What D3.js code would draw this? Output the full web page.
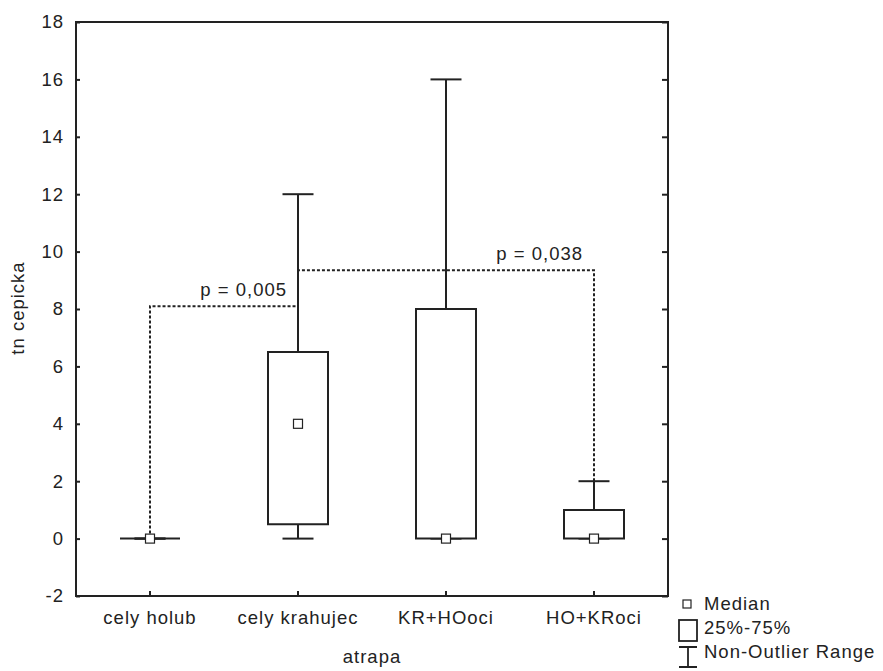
<!DOCTYPE html>
<html>
<head>
<meta charset="utf-8">
<script src="https://cdn.jsdelivr.net/npm/d3@7"></script>
<style>
  body { margin: 0; background: #fff; }
  text { font-family: "Liberation Sans", Arial, sans-serif; fill: #222; letter-spacing: 1px; }
</style>
</head>
<body>
<svg width="883" height="671"></svg>
<script>
// categories and box statistics
var categories = ["cely holub", "cely krahujec", "KR+HOoci", "HO+KRoci"];
var medians = [0, 4, 0, 0];
var q1 = [0, 0.5, 0, 0];
var q3 = [0, 6.5, 8, 1];
var mins = [0, 0, 0, 0];
var maxs = [0, 12, 16, 2];
var yTicks = [-2, 0, 2, 4, 6, 8, 10, 12, 14, 16, 18];

// significance brackets: from category, to category, height, label
var brackets = [
  { from: 0, to: 1, level: 8.1, fromY: 0, toY: 12, label: "p = 0,005" },
  { from: 1, to: 3, level: 9.35, fromY: 12, toY: 2, label: "p = 0,038" }
];

var legendItems = ["Median", "25%-75%", "Non-Outlier Range"];

var svg = d3.select("svg");
var ink = "#222";
var fs = 18.5;
var plotL = 76, plotR = 668, plotT = 22, plotB = 596;

var x = d3.scaleBand().domain(categories).range([plotL, plotR]).padding(0);
var y = d3.scaleLinear().domain([-2, 18]).range([plotB, plotT]);
var cx = function(i) { return x(categories[i]) + x.bandwidth() / 2; };
var boxW = 60, capW = 31;

// frame
svg.append("rect")
  .attr("x", plotL).attr("y", plotT)
  .attr("width", plotR - plotL).attr("height", plotB - plotT)
  .attr("fill", "none").attr("stroke", ink).attr("stroke-width", 2);

// left axis (ticks inside)
var yAxis = svg.append("g")
  .attr("transform", "translate(" + plotL + ",0)")
  .call(d3.axisLeft(y).tickValues(yTicks).tickSize(-4).tickPadding(12)
    .tickFormat(function(d) { return String(d); }));
yAxis.select(".domain").remove();
yAxis.selectAll("line").attr("stroke", ink).attr("stroke-width", 2);
yAxis.selectAll("text").attr("font-size", fs).attr("fill", ink)
  .style("font-family", "'Liberation Sans', Arial, sans-serif");

// right axis ticks
var yAxisR = svg.append("g")
  .attr("transform", "translate(" + plotR + ",0)")
  .call(d3.axisRight(y).tickValues(yTicks).tickSize(-6).tickFormat(""));
yAxisR.select(".domain").remove();
yAxisR.selectAll("line").attr("stroke", ink).attr("stroke-width", 2);

// bottom axis
var xAxis = svg.append("g")
  .attr("transform", "translate(0," + plotB + ")")
  .call(d3.axisBottom(x).tickSize(-5).tickPadding(15));
xAxis.select(".domain").remove();
xAxis.selectAll("line").attr("stroke", ink).attr("stroke-width", 2);
xAxis.selectAll("text").attr("font-size", fs).attr("fill", ink)
  .style("font-family", "'Liberation Sans', Arial, sans-serif");

// axis titles
svg.append("text")
  .attr("transform", "translate(24," + 308 + ") rotate(-90)")
  .attr("text-anchor", "middle")
  .attr("font-size", fs)
  .text("tn cepicka");

svg.append("text")
  .attr("x", (plotL + plotR) / 2).attr("y", 663)
  .attr("text-anchor", "middle")
  .attr("font-size", fs)
  .text("atrapa");

// significance brackets (dotted)
var bg = svg.append("g");
brackets.forEach(function(b) {
  var pts = [[cx(b.from), y(b.fromY)], [cx(b.from), y(b.level)],
             [cx(b.to), y(b.level)], [cx(b.to), y(b.toY)]];
  bg.append("path")
    .attr("d", d3.line()(pts))
    .attr("fill", "none").attr("stroke", ink)
    .attr("stroke-width", 2).attr("stroke-dasharray", "3,2");
  bg.append("text")
    .attr("x", cx(b.to) - 11).attr("y", y(b.level) - 10)
    .attr("text-anchor", "end")
    .attr("font-size", fs)
    .text(b.label);
});

// boxes
var boxes = svg.append("g");
categories.forEach(function(c, i) {
  var g = boxes.append("g");
  var xc = cx(i);
  // whiskers
  g.append("line").attr("x1", xc).attr("x2", xc)
    .attr("y1", y(q3[i])).attr("y2", y(maxs[i]))
    .attr("stroke", ink).attr("stroke-width", 2);
  g.append("line").attr("x1", xc).attr("x2", xc)
    .attr("y1", y(q1[i])).attr("y2", y(mins[i]))
    .attr("stroke", ink).attr("stroke-width", 2);
  g.append("line").attr("x1", xc - capW / 2).attr("x2", xc + capW / 2)
    .attr("y1", y(maxs[i])).attr("y2", y(maxs[i]))
    .attr("stroke", ink).attr("stroke-width", 2);
  g.append("line").attr("x1", xc - capW / 2).attr("x2", xc + capW / 2)
    .attr("y1", y(mins[i])).attr("y2", y(mins[i]))
    .attr("stroke", ink).attr("stroke-width", 2);
  // box (path so a zero-height box still shows as a line)
  var x0 = xc - boxW / 2, x1 = xc + boxW / 2, yTop = y(q3[i]), yBot = y(q1[i]);
  g.append("path")
    .attr("d", "M" + x0 + "," + yTop + "H" + x1 + "V" + yBot + "H" + x0 + "Z")
    .attr("fill", "#fff").attr("stroke", ink).attr("stroke-width", 2);
  // median marker
  g.append("rect")
    .attr("x", xc - 4.5).attr("y", y(medians[i]) - 4.5)
    .attr("width", 9).attr("height", 9)
    .attr("fill", "#fff").attr("stroke", ink).attr("stroke-width", 1.2);
});

// legend
var lg = svg.append("g");
lg.append("rect").attr("x", 683).attr("y", 600).attr("width", 8).attr("height", 8)
  .attr("fill", "#fff").attr("stroke", ink).attr("stroke-width", 1.2);
lg.append("rect").attr("x", 679).attr("y", 620).attr("width", 18).attr("height", 21)
  .attr("fill", "#fff").attr("stroke", ink).attr("stroke-width", 1.8);
lg.append("path").attr("d", "M679,647H697M688,647V667M679,667H697")
  .attr("fill", "none").attr("stroke", ink).attr("stroke-width", 1.8);
legendItems.forEach(function(t, i) {
  lg.append("text")
    .attr("x", 704).attr("y", 610 + i * 24)
    .attr("font-size", fs)
    .text(t);
});
</script>
</body>
</html>
